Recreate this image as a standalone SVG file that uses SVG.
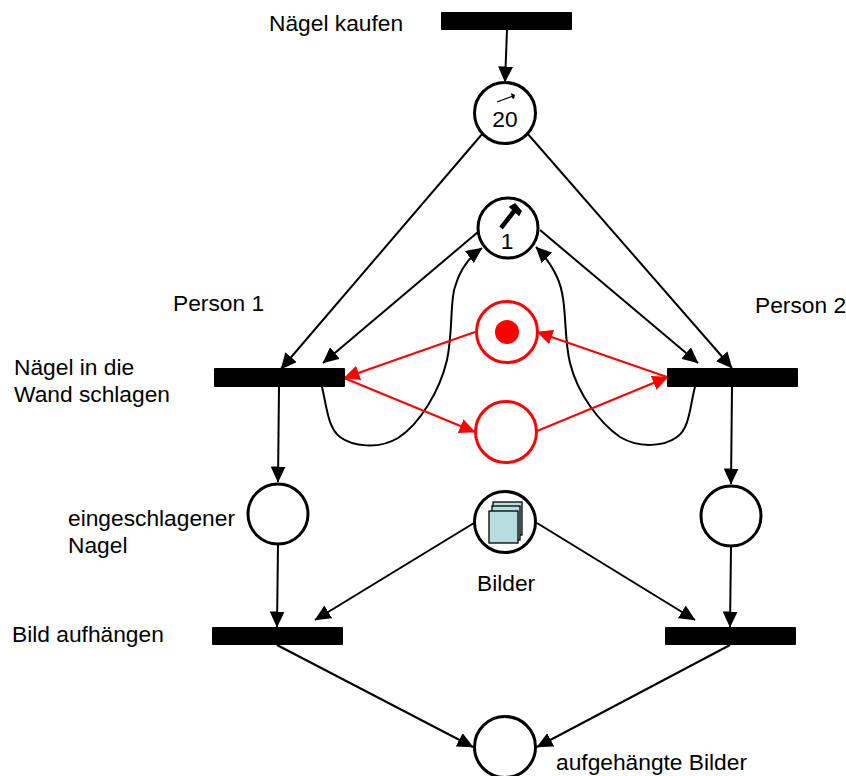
<svg xmlns="http://www.w3.org/2000/svg" width="846" height="776" viewBox="0 0 846 776">
<style>
text{font-family:"Liberation Sans",Arial,sans-serif;font-size:22.750px;fill:#000}
.bar{fill:#000}
.pl{fill:#fff;stroke:#000;stroke-width:3}
.rp{fill:#fff;stroke:#f00;stroke-width:3}
.a{fill:none;stroke:#000;stroke-width:2;marker-end:url(#k)}
.r{fill:none;stroke:#f00;stroke-width:2;marker-end:url(#kr)}
.sheet{fill:#b7dde1;stroke:#000;stroke-width:1.300}
</style>
<defs>
<marker id="k" markerUnits="userSpaceOnUse" markerWidth="16" markerHeight="15" refX="15.500" refY="7.500" orient="auto"><path d="M0 0L16 7.500L0 15z" fill="#000"/></marker>
<marker id="kr" markerUnits="userSpaceOnUse" markerWidth="16" markerHeight="15" refX="15.500" refY="7.500" orient="auto"><path d="M0 0L16 7.500L0 15z" fill="#f00"/></marker>
</defs>
<g id="connectors">
<path class="a" d="M507 30L505 82"/>
<path class="a" d="M483 133L281 369"/>
<path class="a" d="M527 133L732 368"/>
<path class="a" d="M478 232L323 363"/>
<path class="a" d="M540 230L698 363"/>
<path class="a" d="M322 387C327 408 328 428 340 437C352 446 378 450 398 438C420 424 440 390 447 360C453 332 450 300 455 287C459 272 468 258 482 248"/>
<path class="a" d="M695 387C690 405 690 428 677 437C665 446 640 449 620 437C600 423 578 395 570 363C563 335 568 300 557 277C551 264 545 256 536 247"/>
<path class="r" d="M475 332L344 378"/>
<path class="r" d="M344 378L475 432"/>
<path class="r" d="M537 431L668 377"/>
<path class="r" d="M667 377L537 332"/>
<path class="a" d="M279 387L278 482"/>
<path class="a" d="M732 387L731 484"/>
<path class="a" d="M278 545L277 627"/>
<path class="a" d="M731 547L730 627"/>
<path class="a" d="M474 523L315 620"/>
<path class="a" d="M537 523L695 620"/>
<path class="a" d="M277 645L473 747"/>
<path class="a" d="M730 645L537 747"/>
</g>
<g id="t1"><rect class="bar" x="441" y="12" width="131" height="18" rx="1"/><text x="269" y="31">Nägel kaufen</text></g>
<g id="p-naegel"><circle class="pl" cx="505" cy="113" r="30.500"/>
<path d="M497 102L513 96" stroke="#000" stroke-width="1.300" fill="none"/><path d="M511 93L515 95L514 99L512 98z" fill="#000"/>
<text x="505" y="127" text-anchor="middle">20</text></g>
<g id="p-hammer"><circle class="pl" cx="508" cy="228" r="30"/>
<path d="M501 228L515 210" stroke="#000" stroke-width="4.500" fill="none"/><path d="M510 207L515 204L521 211L519 215z" fill="#000" stroke="#000" stroke-width="1.500"/>
<text x="507" y="249" text-anchor="middle">1</text></g>
<g id="p-mutex"><circle class="rp" cx="507" cy="332" r="30.500"/><circle cx="507" cy="332" r="12" fill="#f00"/></g>
<g id="p-free"><circle class="rp" cx="506" cy="432" r="30.500"/></g>
<g id="t-p1"><rect class="bar" x="214" y="368" width="131" height="19" rx="1"/><text x="173" y="311">Person 1</text><text x="14" y="375">Nägel in die</text><text x="14" y="402">Wand schlagen</text></g>
<g id="t-p2"><rect class="bar" x="667" y="368" width="131" height="19" rx="1"/><text x="755" y="313">Person 2</text></g>
<g id="p-nagel1"><circle class="pl" cx="278" cy="514" r="30"/><text x="68" y="526">eingeschlagener</text><text x="68" y="553">Nagel</text></g>
<g id="p-nagel2"><circle class="pl" cx="731" cy="516" r="30"/></g>
<g id="p-bilder"><circle class="pl" cx="505" cy="522" r="30.500"/>
<rect class="sheet" x="493" y="502" width="29" height="33"/><rect class="sheet" x="492" y="506" width="28" height="34"/><rect class="sheet" x="489" y="511" width="29" height="32"/>
<text x="477" y="591">Bilder</text></g>
<g id="t-b1"><rect class="bar" x="212" y="627" width="131" height="18" rx="1"/><text x="12" y="642">Bild aufhängen</text></g>
<g id="t-b2"><rect class="bar" x="665" y="627" width="131" height="18" rx="1"/></g>
<g id="p-end"><circle class="pl" cx="505" cy="747" r="30.500"/><text x="556" y="770">aufgehängte Bilder</text></g>
</svg>
